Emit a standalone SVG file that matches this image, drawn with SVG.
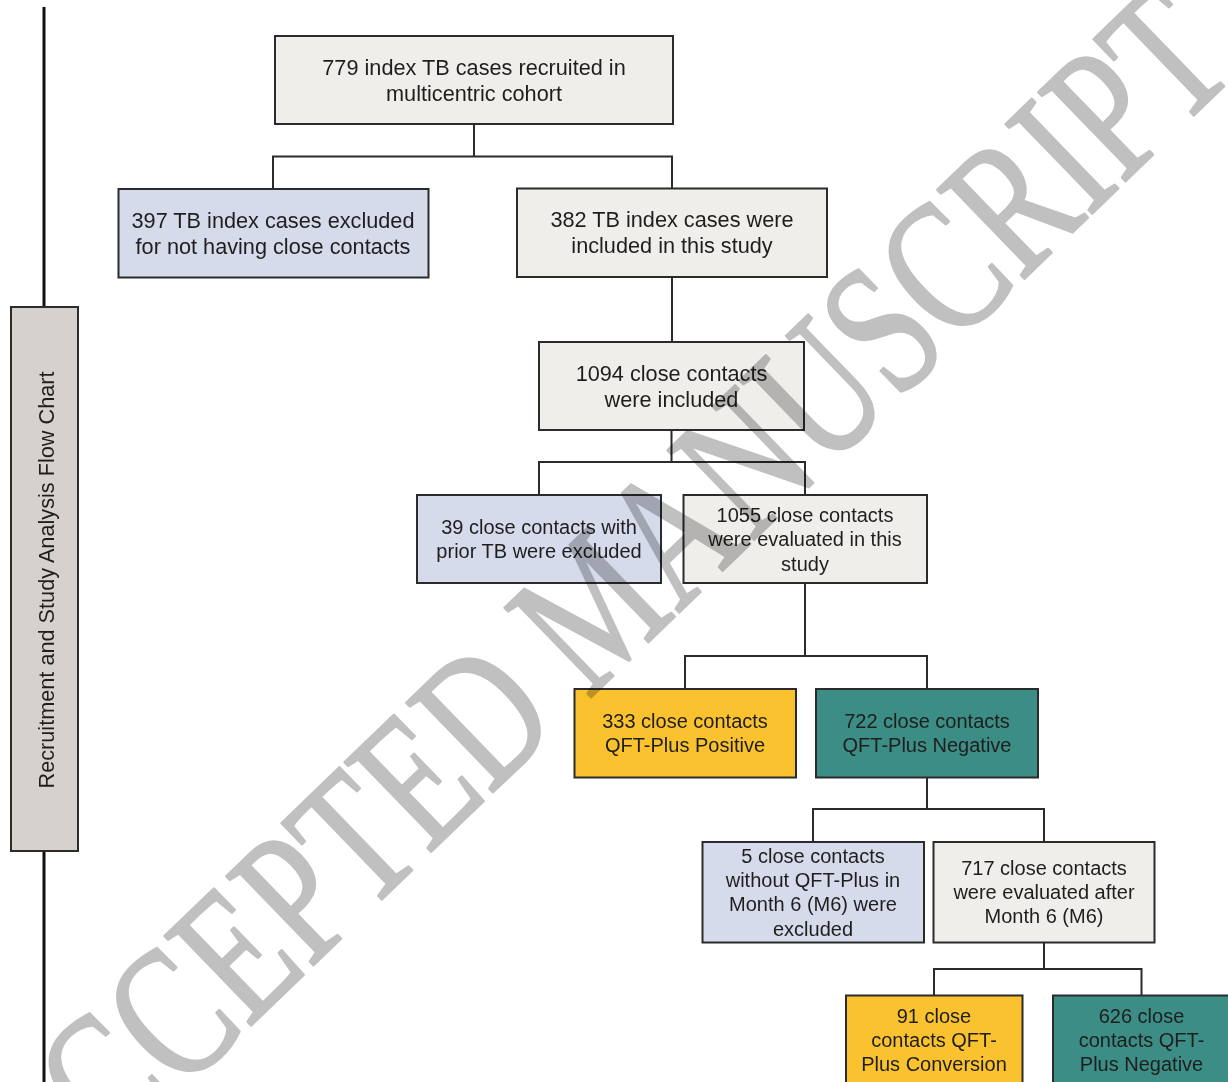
<svg xmlns="http://www.w3.org/2000/svg" width="1228" height="1082" viewBox="0 0 1228 1082">
<style>
.box{stroke:#2b2b2b;stroke-width:2}
.beige{fill:#f0eeeb}
.blue{fill:#d6dbeb}
.yellow{fill:#fbc230}
.teal{fill:#3c8d85}
.label{fill:#d6d1cc}
.t{font-family:"Liberation Sans",Arial,sans-serif;font-size:20px;fill:#1e1e1e;text-anchor:middle}
.big{font-size:21.7px}
.conn{stroke:#2b2b2b;stroke-width:2;fill:none}
.wm{font-family:"Liberation Serif","Times New Roman",serif;font-size:190px;fill:#c0c0c0;stroke:#c0c0c0;stroke-width:2.5;stroke-linejoin:round;mix-blend-mode:multiply}
</style>
<rect width="1228" height="1082" fill="#ffffff"/>
<g id="axis">
<line x1="44" y1="7" x2="44" y2="308" stroke="#111" stroke-width="3"/>
<line x1="44" y1="851" x2="44" y2="1082" stroke="#111" stroke-width="3"/>
</g>
<g id="label">
<rect class="box label" x="11" y="307" width="67" height="544"/>
<text class="t big" transform="translate(54,580) rotate(-90)">Recruitment and Study Analysis Flow Chart</text>
</g>
<g id="connectors">
<path class="conn" d="M474 124V156.5M273 189V156.5H672V188"/>
<path class="conn" d="M672 277V342"/>
<path class="conn" d="M671.5 430V462M539 495V462H805V495"/>
<path class="conn" d="M805 583V656M685 689V656H927V689"/>
<path class="conn" d="M927 777V809M813 842V809H1044V842"/>
<path class="conn" d="M1044 942V969M934 995V969H1141.5V995"/>
</g>
<g id="n779">
<rect class="box beige" x="275" y="36" width="398" height="88"/>
<text class="t big" x="474" y="75">779 index TB cases recruited in</text>
<text class="t big" x="474" y="101">multicentric cohort</text>
</g>
<g id="n397">
<rect class="box blue" x="118.5" y="189" width="310" height="88.5"/>
<text class="t big" x="273" y="228">397 TB index cases excluded</text>
<text class="t big" x="273" y="254">for not having close contacts</text>
</g>
<g id="n382">
<rect class="box beige" x="517" y="188.5" width="310" height="88.5"/>
<text class="t big" x="672" y="227">382 TB index cases were</text>
<text class="t big" x="672" y="253">included in this study</text>
</g>
<g id="n1094">
<rect class="box beige" x="539" y="342" width="265" height="88"/>
<text class="t big" x="671.5" y="381">1094 close contacts</text>
<text class="t big" x="671.5" y="407">were included</text>
</g>
<g id="n39">
<rect class="box blue" x="417" y="495" width="244" height="88"/>
<text class="t" x="539" y="534">39 close contacts with</text>
<text class="t" x="539" y="558">prior TB were excluded</text>
</g>
<g id="n1055">
<rect class="box beige" x="683.5" y="495" width="243.5" height="88"/>
<text class="t" x="805" y="522">1055 close contacts</text>
<text class="t" x="805" y="546">were evaluated in this</text>
<text class="t" x="805" y="571">study</text>
</g>
<g id="n333">
<rect class="box yellow" x="574.5" y="689" width="221.5" height="88.5"/>
<text class="t" x="685" y="728">333 close contacts</text>
<text class="t" x="685" y="752">QFT-Plus Positive</text>
</g>
<g id="n722">
<rect class="box teal" x="816" y="689" width="222" height="88.5"/>
<text class="t" x="927" y="728">722 close contacts</text>
<text class="t" x="927" y="752">QFT-Plus Negative</text>
</g>
<g id="n5">
<rect class="box blue" x="702.5" y="842" width="221.5" height="100.5"/>
<text class="t" x="813" y="863">5 close contacts</text>
<text class="t" x="813" y="887">without QFT-Plus in</text>
<text class="t" x="813" y="911">Month 6 (M6) were</text>
<text class="t" x="813" y="936">excluded</text>
</g>
<g id="n717">
<rect class="box beige" x="933.5" y="842" width="221" height="100.5"/>
<text class="t" x="1044" y="875">717 close contacts</text>
<text class="t" x="1044" y="899">were evaluated after</text>
<text class="t" x="1044" y="923">Month 6 (M6)</text>
</g>
<g id="n91">
<rect class="box yellow" x="846" y="995.5" width="176.5" height="100"/>
<text class="t" x="934" y="1023">91 close</text>
<text class="t" x="934" y="1047">contacts QFT-</text>
<text class="t" x="934" y="1071">Plus Conversion</text>
</g>
<g id="n626">
<rect class="box teal" x="1053" y="995.5" width="177" height="100"/>
<text class="t" x="1141.5" y="1023">626 close</text>
<text class="t" x="1141.5" y="1047">contacts QFT-</text>
<text class="t" x="1141.5" y="1071">Plus Negative</text>
</g>
<g id="watermark">
<text class="wm" text-anchor="middle" transform="translate(640,650) rotate(-44) scale(0.74,1)">ACCEPTED MANUSCRIPT</text>
</g>
</svg>
